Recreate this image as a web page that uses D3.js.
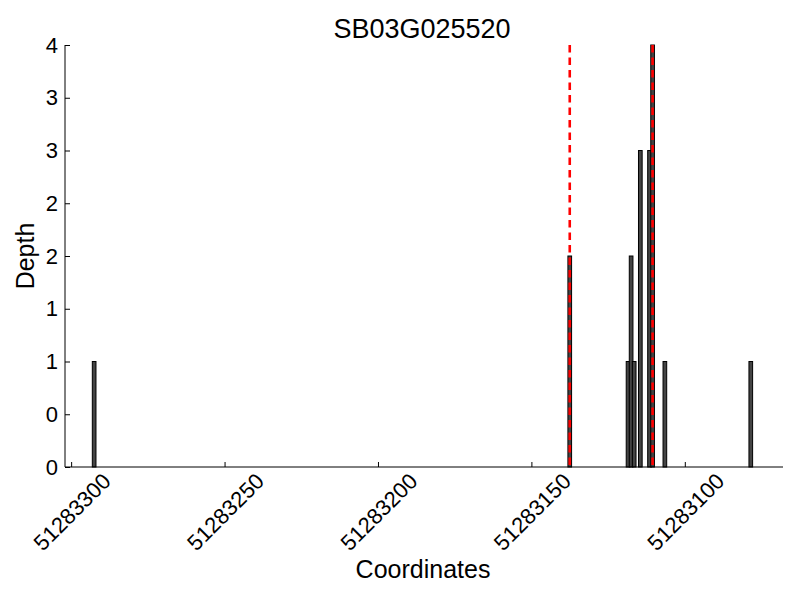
<!DOCTYPE html>
<html lang="en">
<head>
<meta charset="UTF-8">
<title>SB03G025520</title>
<script src="https://d3js.org/d3.v7.min.js"></script>
<style>
  body { margin: 0; background: #fff; }
  svg text { font-family: "Liberation Sans", Arial, sans-serif; fill: #000; }
</style>
</head>
<body>
<svg class="chart-canvas" width="800" height="600"></svg>
<script>
// read depth per coordinate (bar left edge, width 1)
var positions = [51283292, 51283137, 51283118, 51283117, 51283116, 51283114, 51283111, 51283110, 51283106, 51283078];
var depths = [1, 2, 1, 2, 1, 3, 3, 4, 1, 1];
var markers = [51283137.5, 51283110.5];
var xTicks = [51283300, 51283250, 51283200, 51283150, 51283100];
var yTicks = [0, 0.5, 1, 1.5, 2, 2.5, 3, 3.5, 4];
var xLimits = [51283302, 51283068];
var yLimits = [0, 4];

var svg = d3.select('svg');
var plotL = 65, plotR = 783, plotT = 45, plotB = 467;

var xScale = d3.scaleLinear().domain(xLimits).range([plotL, plotR]);
var yScale = d3.scaleLinear().domain(yLimits).range([plotB, plotT]);

var data = positions.map((p, i) => ({ pos: p, depth: depths[i] }));

// bars
svg.append('g').selectAll('rect').data(data)
    .enter().append('rect')
    .attr('x', d => xScale(d.pos + 1) - 0.3)
    .attr('width', d => xScale(d.pos) - xScale(d.pos + 1) + 0.6)
    .attr('y', d => yScale(d.depth))
    .attr('height', d => yScale(0) - yScale(d.depth))
    .attr('fill', '#444')
    .attr('stroke', '#000')
    .attr('stroke-width', 1);

// dashed markers
svg.append('g').selectAll('line').data(markers)
    .enter().append('line')
    .attr('x1', d => xScale(d)).attr('x2', d => xScale(d))
    .attr('y1', yScale(4)).attr('y2', yScale(0))
    .attr('stroke', '#ff0000')
    .attr('stroke-width', 2.6)
    .attr('stroke-dasharray', '7.5,5');

// axes with inward ticks
var xAxis = d3.axisBottom(xScale).tickValues(xTicks).tickSize(-5).tickFormat('');
var yAxis = d3.axisLeft(yScale).tickValues(yTicks).tickSize(-5).tickFormat('');

var xAxisG = svg.append('g').attr('transform', `translate(0,${plotB})`).call(xAxis);
var yAxisG = svg.append('g').attr('transform', `translate(${plotL},0)`).call(yAxis);
xAxisG.select('.domain').attr('d', `M${plotL},0H${plotR}`);
yAxisG.select('.domain').attr('d', `M0,${plotT}V${plotB}`);
svg.selectAll('.domain, .tick line').attr('stroke', '#000').attr('stroke-width', 1);

// tick labels
svg.append('g').selectAll('text').data(xTicks)
    .enter().append('text')
    .attr('transform', d => `translate(${xScale(d) + 1},${plotB + 45}) rotate(-45)`)
    .attr('text-anchor', 'middle')
    .attr('dominant-baseline', 'central')
    .style('font-size', '22px')
    .text(d => d);

svg.append('g').selectAll('text').data(yTicks)
    .enter().append('text')
    .attr('x', plotL - 7)
    .attr('y', d => yScale(d))
    .attr('text-anchor', 'end')
    .attr('dominant-baseline', 'central')
    .style('font-size', '22px')
    .text(d => Math.floor(d));

// titles
svg.append('text')
    .attr('x', 422).attr('y', 38)
    .attr('text-anchor', 'middle')
    .style('font-size', '27px')
    .text('SB03G025520');

svg.append('text')
    .attr('x', 423).attr('y', 578)
    .attr('text-anchor', 'middle')
    .style('font-size', '25px')
    .text('Coordinates');

svg.append('text')
    .attr('transform', `translate(34,${(plotT + plotB) / 2}) rotate(-90)`)
    .attr('text-anchor', 'middle')
    .style('font-size', '25px')
    .text('Depth');
</script>
</body>
</html>
